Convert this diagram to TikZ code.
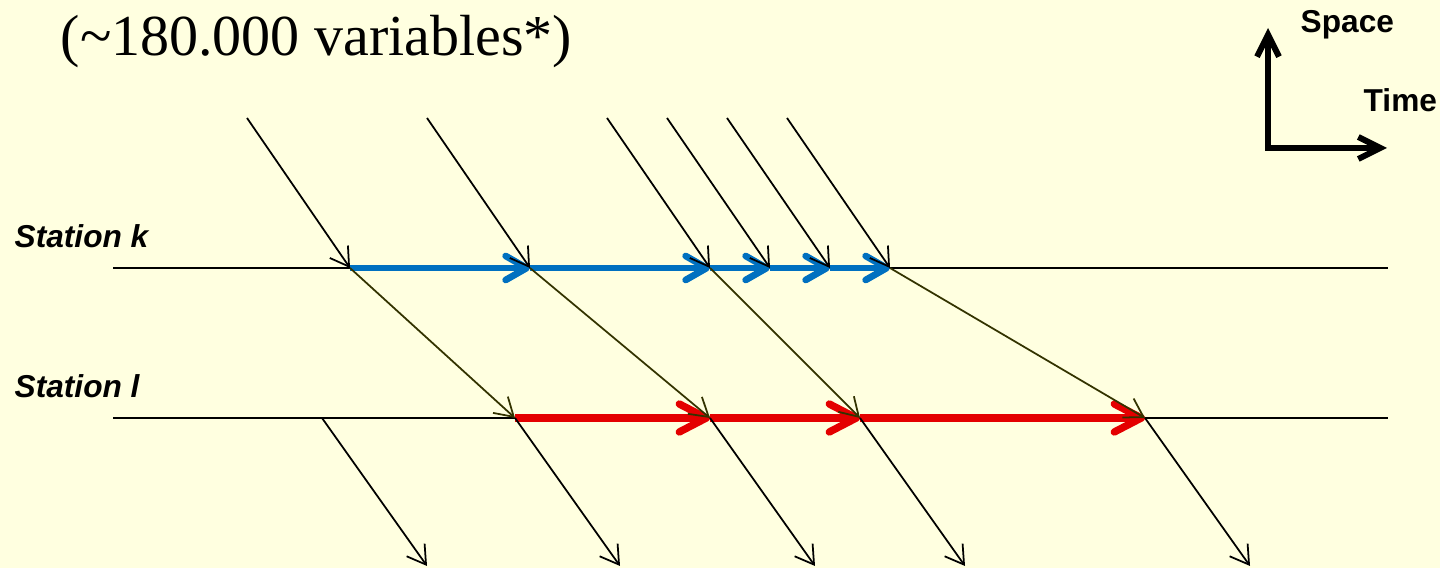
\documentclass[tikz,border=0pt]{standalone}
\usepackage{fontspec}
\setmainfont{Liberation Serif}
\newfontfamily\arialfont{Liberation Sans}
\usepackage{xcolor}
\usetikzlibrary{arrows.meta}

\definecolor{slidebg}{RGB}{255,255,224}
\definecolor{dwellblue}{RGB}{0,112,192}
\definecolor{dwellred}{RGB}{228,0,0}
\definecolor{runolive}{RGB}{51,51,0}

\begin{document}
\begin{tikzpicture}[
    x=0.01cm, y=-0.01cm,
    station/.style={line width=0.6pt, black},
    train/.style={-{Straight Barb[length=1.8mm, width=2.2mm]}, line width=0.5pt, black},
    transfer/.style={train, draw=runolive},
    kflow/.style={-{Straight Barb[length=2.1mm, width=2.4mm, round]},
                  line width=1.9pt, draw=dwellblue},
    lflow/.style={-{Straight Barb[length=2.7mm, width=2.8mm, round]},
                  line width=2.1pt, draw=dwellred},
    axis/.style={{Straight Barb[length=2.2mm, width=2.2mm]}-{Straight Barb[length=2.2mm, width=2.2mm]},
                 line width=1.7pt, black},
    stationlabel/.style={anchor=base west, inner sep=0pt,
                         font=\arialfont\bfseries\itshape\fontsize{9}{11}\selectfont},
    axislabel/.style={anchor=base west, inner sep=0pt,
                      font=\arialfont\bfseries\fontsize{9}{11}\selectfont},
]

% Background and frame
\path[fill=slidebg] (0,0) rectangle (1440,568);
\useasboundingbox (0,0) rectangle (1440,568);

% Title
\node[anchor=base west, inner sep=0pt, font=\fontsize{16.5}{20}\selectfont]
    (title) at (60,56) {(\textasciitilde180.000 variables*)};

% Space-time axes
\coordinate (origin)    at (1268,148);
\coordinate (spacetip)  at (1268,28);
\coordinate (timetip)   at (1387,148);
\draw[axis] (spacetip) -- (origin) -- (timetip);
\node[axislabel] (spacelab) at (1300,33)  {Space};
\node[axislabel] (timelab)  at (1363,112) {Time};

% Stations
\coordinate (kwest) at (113,268);
\coordinate (keast) at (1388,268);
\coordinate (lwest) at (113,418);
\coordinate (least) at (1388,418);
\node[stationlabel] (labk) at (14,248) {Station k};
\node[stationlabel] (labl) at (14,398) {Station l};
\draw[station] (kwest) -- (keast);
\draw[station] (lwest) -- (least);

% Events at station k
\foreach \n/\x in {1/350, 2/530, 3/710, 4/770, 5/830, 6/890}{
    \coordinate (k\n)  at (\x,268);
    \coordinate (ka\n) at (\x-103,118);
}
% Events at station l
\foreach \n/\x in {0/322, 1/515, 2/710, 3/860, 4/1145}{
    \coordinate (l\n)  at (\x,418);
    \coordinate (ld\n) at (\x+105,566);
}

% Waiting arcs
\draw[kflow] (k1) -- (k2);
\draw[kflow] (k2) -- (k3);
\draw[kflow] (k3) -- (k4);
\draw[kflow] (k4) -- (k5);
\draw[kflow] (k5) -- (k6);
\draw[lflow] (l1) -- (l2);
\draw[lflow] (l2) -- (l3);
\draw[lflow] (l3) -- (l4);

% Trains arriving at k
\foreach \n in {1,...,6}
    \draw[train] (ka\n) -- (k\n);

% Runs from k to l
\draw[transfer] (k1) -- (l1);
\draw[transfer] (k2) -- (l2);
\draw[transfer] (k3) -- (l3);
\draw[transfer] (k6) -- (l4);

% Trains leaving l
\foreach \n in {0,...,4}
    \draw[train] (l\n) -- (ld\n);

\end{tikzpicture}
\end{document}
